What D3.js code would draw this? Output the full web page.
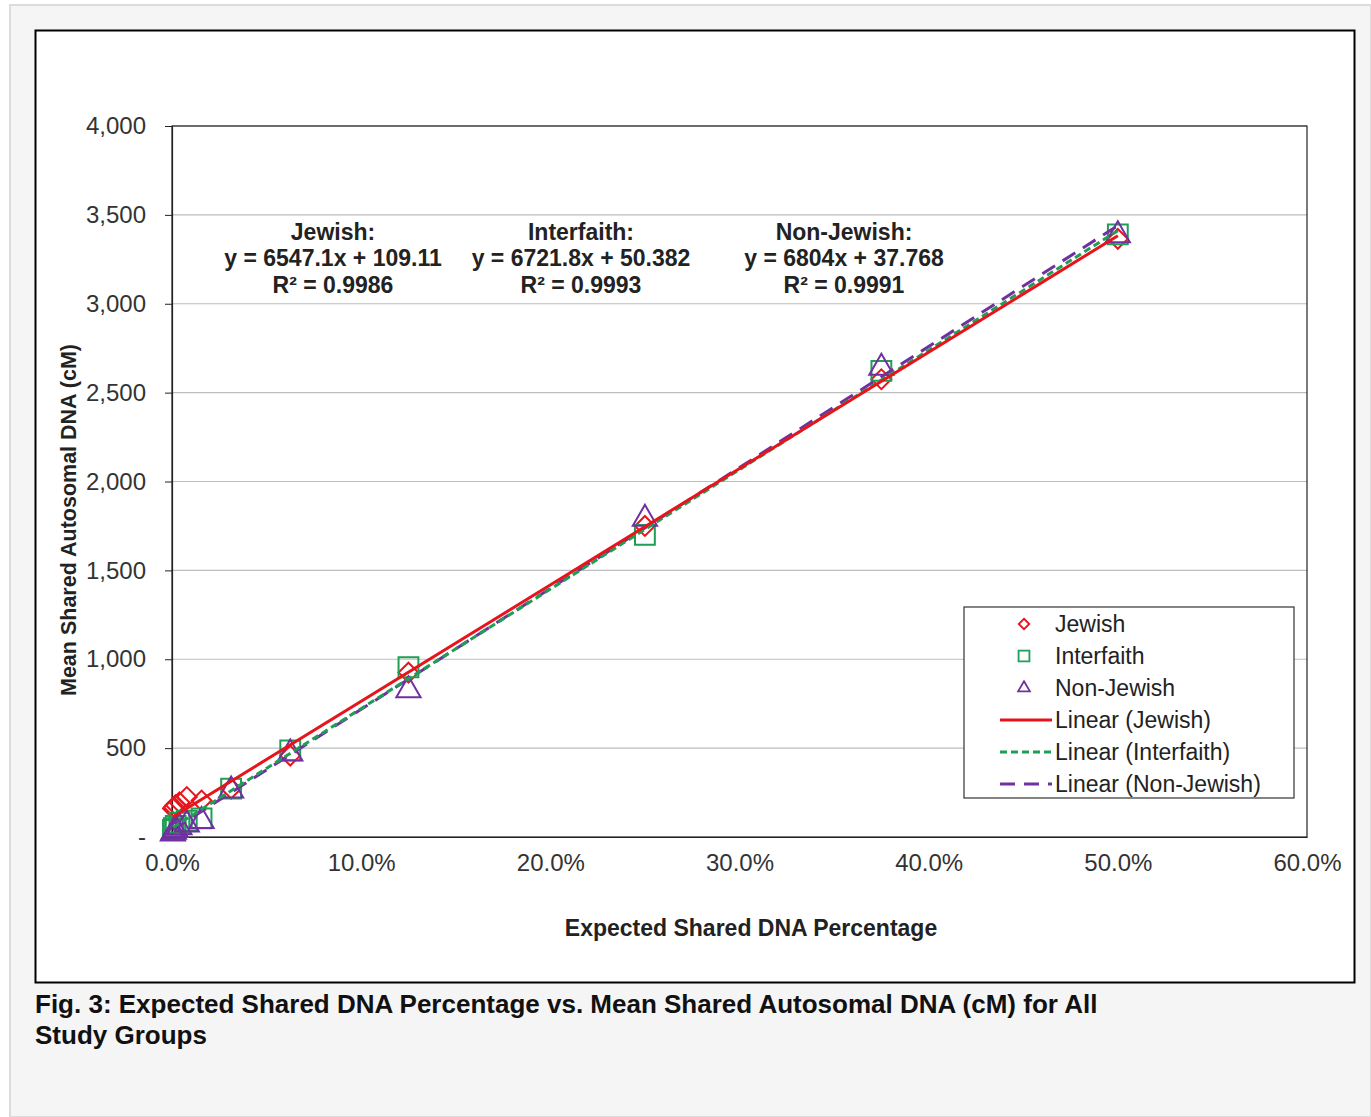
<!DOCTYPE html>
<html>
<head>
<meta charset="utf-8">
<script src="https://cdn.jsdelivr.net/npm/d3@7"></script>
<style>
  body { margin: 0; background: #fff; }
  text { font-family: "Liberation Sans", Arial, sans-serif; }
</style>
</head>
<body>
<div id="chart_div"></div>
<script>
// expected share (fraction) for each relationship level
const expected = [0.5, 0.375, 0.25, 0.125, 0.0625, 0.03125, 0.015625, 0.0078125, 0.00390625, 0.001953, 0.000977, 0.000488];

const jewish     = [3365, 2575, 1750, 925, 458, 272, 205, 225, 195, 180, 168, 160];
const interfaith = [3390, 2622, 1700, 955, 487, 272, 105, 92, 80, 62, 50, 40];
const nonJewish  = [3385, 2640, 1790, 825, 470, 262, 90, 70, 55, 40, 30, 20];

const seriesNames = ["Jewish", "Interfaith", "Non-Jewish"];
const slopes = [6547.1, 6721.8, 6804];
const intercepts = [109.11, 50.382, 37.768];
const eqLabels = ["y = 6547.1x + 109.11", "y = 6721.8x + 50.382", "y = 6804x + 37.768"];
const r2Labels = ["R\u00b2 = 0.9986", "R\u00b2 = 0.9993", "R\u00b2 = 0.9991"];

const xTicks = [0, 0.1, 0.2, 0.3, 0.4, 0.5, 0.6];
const yTicks = [0, 500, 1000, 1500, 2000, 2500, 3000, 3500, 4000];

const width = 1371;
const height = 1117;
const colors = ["#e8141c", "#1f9f55", "#7030a0"];

const x = d3.scaleLinear().domain([0, 0.6]).range([172, 1307]);
const y = d3.scaleLinear().domain([0, 4000]).range([837, 126]);

const svg = d3.select("#chart_div")
    .append("svg")
    .attr("width", width)
    .attr("height", height);

// page panel + figure frame
svg.append("rect").attr("x", 10).attr("y", 5).attr("width", width - 10).attr("height", height - 5)
    .attr("fill", "#f5f5f5").attr("stroke", "#dcdcdc").attr("stroke-width", 2);
svg.append("rect").attr("x", 35.5).attr("y", 30.5).attr("width", 1319).attr("height", 952)
    .attr("fill", "#fff").attr("stroke", "#000").attr("stroke-width", 2);

// gridlines
svg.append("g")
    .selectAll("line")
    .data(yTicks.filter(d => d > 0))
    .enter()
    .append("line")
    .attr("x1", x(0)).attr("x2", x(0.6))
    .attr("y1", d => y(d)).attr("y2", d => y(d))
    .attr("stroke", "#bdbdbd").attr("stroke-width", 1.2);

// plot frame
svg.append("rect")
    .attr("x", x(0)).attr("y", y(4000))
    .attr("width", x(0.6) - x(0)).attr("height", y(0) - y(4000))
    .attr("fill", "none").attr("stroke", "#222").attr("stroke-width", 1.2);

const yAxis = svg.append("g")
    .attr("transform", `translate(${x(0)},0)`)
    .call(d3.axisLeft(y).tickValues(yTicks).tickSize(7).tickPadding(19)
        .tickFormat(d => d === 0 ? "-" : d3.format(",")(d)));

const xAxis = svg.append("g")
    .attr("transform", `translate(0,${y(0)})`)
    .call(d3.axisBottom(x).tickValues(xTicks).tickSize(0).tickPadding(17)
        .tickFormat(d3.format(".1%")));

[xAxis, yAxis].forEach(g => {
    g.select(".domain").attr("stroke", "#222").attr("stroke-width", 1.2);
    g.selectAll(".tick line").attr("stroke", "#222");
    g.selectAll(".tick text")
        .attr("font-size", 24)
        .attr("fill", "#333")
        .style("font-family", "'Liberation Sans', Arial, sans-serif");
});

// axis titles
svg.append("text")
    .attr("x", 751).attr("y", 936)
    .attr("text-anchor", "middle")
    .attr("font-size", 23).attr("font-weight", "bold").attr("fill", "#222")
    .text("Expected Shared DNA Percentage");

svg.append("text")
    .attr("transform", "translate(76,520) rotate(-90)")
    .attr("text-anchor", "middle")
    .attr("font-size", 21.5).attr("font-weight", "bold").attr("fill", "#222")
    .text("Mean Shared Autosomal DNA (cM)");

// markers
const dataSets = [jewish, interfaith, nonJewish];
const symbols = [d3.symbolDiamond2, d3.symbolSquare2, d3.symbolTriangle2];
const symSizes = [250, 500, 420];

dataSets.forEach((vals, i) => {
    svg.append("g")
        .selectAll("path")
        .data(vals)
        .enter()
        .append("path")
        .attr("d", d3.symbol().type(symbols[i]).size(symSizes[i]))
        .attr("transform", (d, j) => `translate(${x(expected[j])},${y(d)})`)
        .attr("fill", "none")
        .attr("stroke", colors[i])
        .attr("stroke-width", 2);
});

// trendlines
const dashes = [null, "7,4", "15,9"];
const xMin = d3.min(expected), xMax = d3.max(expected);
[2, 1, 0].forEach(i => {
    svg.append("line")
        .attr("x1", x(xMin)).attr("y1", y(slopes[i] * xMin + intercepts[i]))
        .attr("x2", x(xMax)).attr("y2", y(slopes[i] * xMax + intercepts[i]))
        .attr("stroke", colors[i])
        .attr("stroke-width", 3)
        .attr("stroke-dasharray", dashes[i]);
});

// equation labels
const eqX = [333, 581, 844];
seriesNames.forEach((name, i) => {
    const t = svg.append("text")
        .attr("text-anchor", "middle")
        .attr("font-size", 23).attr("font-weight", "bold").attr("fill", "#222");
    t.append("tspan").attr("x", eqX[i]).attr("y", 240).text(name + ":");
    t.append("tspan").attr("x", eqX[i]).attr("y", 266).text(eqLabels[i]);
    t.append("tspan").attr("x", eqX[i]).attr("y", 293).text(r2Labels[i]);
});

// legend
const legend = svg.append("g").attr("transform", "translate(964,607)");
legend.append("rect")
    .attr("width", 330).attr("height", 191)
    .attr("fill", "#fff").attr("stroke", "#333").attr("stroke-width", 1.2);

seriesNames.forEach((name, i) => {
    const row = legend.append("g").attr("transform", `translate(0,${17 + i * 32})`);
    row.append("path")
        .attr("d", d3.symbol().type(symbols[i]).size([70, 150, 100][i]))
        .attr("transform", "translate(60,0)")
        .attr("fill", "none").attr("stroke", colors[i]).attr("stroke-width", 1.8);
    row.append("text")
        .attr("x", 91).attr("y", 8)
        .attr("font-size", 23).attr("fill", "#222")
        .text(name);
});

seriesNames.forEach((name, i) => {
    const row = legend.append("g").attr("transform", `translate(0,${113 + i * 32})`);
    row.append("line")
        .attr("x1", 36).attr("x2", 88)
        .attr("stroke", colors[i]).attr("stroke-width", 3)
        .attr("stroke-dasharray", dashes[i]);
    row.append("text")
        .attr("x", 91).attr("y", 8)
        .attr("font-size", 23).attr("fill", "#222")
        .text(`Linear (${name})`);
});

// caption
const cap = svg.append("text")
    .attr("font-size", 26).attr("font-weight", "bold").attr("fill", "#111");
cap.append("tspan").attr("x", 35).attr("y", 1013)
    .text("Fig. 3: Expected Shared DNA Percentage vs. Mean Shared Autosomal DNA (cM) for All");
cap.append("tspan").attr("x", 35).attr("y", 1044)
    .text("Study Groups");
</script>
</body>
</html>
